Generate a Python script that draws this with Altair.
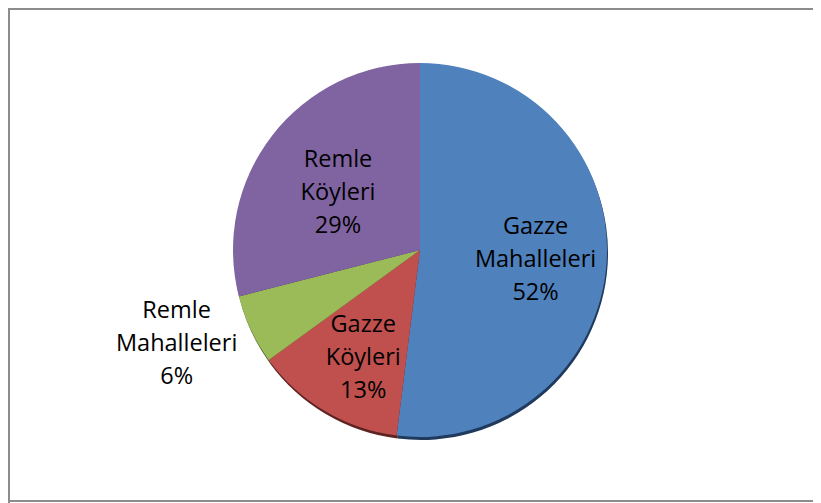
import altair as alt
import pandas as pd

categories = ["Gazze Mahalleleri", "Gazze Köyleri", "Remle Mahalleleri", "Remle Köyleri"]
values = [52, 13, 6, 29]
colors = ["#4F81BD", "#C0504D", "#9BBB59", "#8064A2"]
shadow_colors = ["#1F3A5C", "#5E2220", "#4A5E28", "#3E2F52"]

df = pd.DataFrame({"cat": categories, "value": values, "idx": list(range(len(values)))})

W, H = 805, 495
CX, CY, R = 412, 242, 187
LH = 33
BORDER = "#8C8C8C"

base = alt.Chart(df).encode(
    theta=alt.Theta("value:Q", stack=True),
    order=alt.Order("idx:Q"),
    x=alt.value(CX),
    y=alt.value(CY),
)

shadow = base.mark_arc(radius=R, yOffset=3, xOffset=1).encode(
    color=alt.Color("cat:N", scale=alt.Scale(domain=categories, range=shadow_colors), legend=None)
)

pie = base.mark_arc(radius=R).encode(
    color=alt.Color("cat:N", scale=alt.Scale(domain=categories, range=colors), legend=None)
)

labels = alt.Chart(df).transform_joinaggregate(
    total="sum(value)"
).transform_window(
    cum="sum(value)", sort=[alt.SortField("idx")], frame=[None, 0]
).transform_calculate(
    mid="2*PI*(datum.cum - datum.value/2)/datum.total + [0.024, -0.05, 0.07, -0.05][datum.idx]",
    lr="[116, 122, 261, 100][datum.idx]",
).transform_calculate(
    px=f"{CX} + datum.lr*sin(datum.mid)",
    py=f"{CY} - datum.lr*cos(datum.mid) - {LH}",
    label="replace(datum.cat, ' ', '\\n') + '\\n' + datum.value + '%'",
).mark_text(
    font="Open Sans", fontSize=23.5, lineHeight=LH, lineBreak="\n",
    color="black", align="center", baseline="middle",
).encode(
    text="label:N",
    x=alt.X("px:Q", scale=None, axis=None),
    y=alt.Y("py:Q", scale=None, axis=None),
)

one = alt.Chart(pd.DataFrame({"a": [0]}))
left = one.mark_rule(color=BORDER, strokeWidth=2).encode(x=alt.value(1), y=alt.value(0), y2=alt.value(H))
top = one.mark_rule(color=BORDER, strokeWidth=2).encode(y=alt.value(1), x=alt.value(0), x2=alt.value(W))
bottom = one.mark_rule(color=BORDER, strokeWidth=2).encode(y=alt.value(H - 2), x=alt.value(0), x2=alt.value(W))

pies = alt.layer(shadow, pie).resolve_scale(color="independent")
chart = alt.layer(pies, labels, left, top, bottom).properties(
    width=W, height=H, padding=0, autosize=alt.AutoSizeParams(type="none")
).configure_view(stroke=None)

chart.save("out.html", embed_options={"renderer": "svg", "actions": False})
